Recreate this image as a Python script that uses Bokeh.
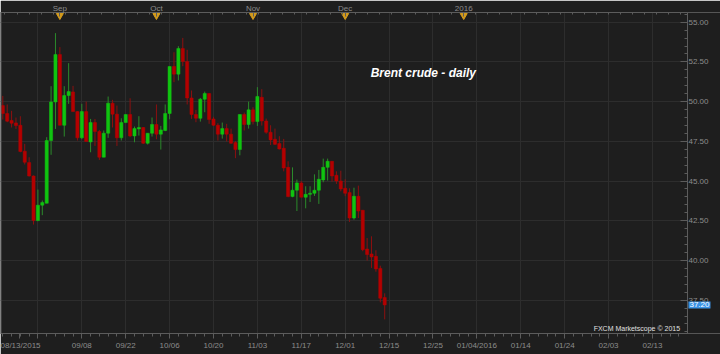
import numpy as np
from bokeh.plotting import figure
from bokeh.models import (ColumnDataSource, LinearAxis, FixedTicker, Range1d,
                          Label, NumeralTickFormatter, Span)
from bokeh.embed import file_html
from bokeh.resources import INLINE

# ---- data (Brent crude daily, 08/13/2015 .. 12/14/2015) ----
opens = [49.75, 49.25, 48.81, 48.66, 48.51, 46.88, 46.16, 45.32, 42.51, 43.48,
         43.60, 47.55, 49.98, 52.96, 48.51, 50.38, 50.61, 49.37, 47.72, 49.37,
         47.46, 48.68, 48.12, 46.50, 48.01, 49.90, 49.21, 47.72, 48.68, 49.19,
         47.84, 48.28, 48.37, 47.38, 48.01, 48.56, 47.95, 48.18, 49.25, 52.21,
         51.73, 53.34, 52.52, 50.23, 49.19, 48.95, 50.15, 50.51, 48.91, 48.51,
         47.95, 48.30, 47.95, 47.42, 46.98, 49.19, 48.56, 49.48, 48.74, 50.27,
         48.78, 48.07, 47.63, 47.36, 47.06, 45.86, 44.02, 44.42, 44.88, 43.98,
         44.16, 44.23, 44.42, 45.07, 45.86, 46.24, 45.36, 45.00, 44.54, 44.27,
         42.67, 44.04, 43.16, 40.72, 40.41, 40.26, 39.50, 37.66]
highs = [50.36, 49.82, 49.42, 49.00, 49.08, 47.34, 46.50, 45.35, 44.46, 43.77,
         47.76, 50.97, 54.31, 53.43, 50.97, 52.42, 50.99, 49.40, 49.86, 50.00,
         48.91, 48.91, 48.22, 48.18, 50.32, 50.11, 49.75, 48.95, 49.19, 50.21,
         48.43, 49.08, 48.40, 48.01, 49.00, 49.82, 48.47, 49.82, 52.21, 53.11,
         53.49, 54.01, 53.26, 50.70, 49.48, 50.23, 50.63, 50.51, 49.04, 48.64,
         48.68, 48.60, 48.30, 47.51, 49.19, 49.31, 50.00, 49.65, 50.91, 50.78,
         48.93, 48.51, 48.30, 47.82, 47.65, 46.24, 45.86, 45.09, 45.00, 44.67,
         44.67, 45.42, 45.70, 46.41, 46.41, 46.24, 45.61, 45.65, 45.11, 44.54,
         44.58, 44.71, 43.16, 41.41, 41.52, 40.64, 39.67, 37.93]
lows = [48.87, 48.70, 48.37, 48.28, 46.81, 46.04, 45.28, 42.26, 42.47, 42.85,
        43.60, 46.65, 48.28, 48.51, 47.80, 49.86, 49.37, 47.55, 47.63, 47.49,
        46.81, 47.21, 46.33, 46.50, 47.72, 48.37, 47.21, 47.55, 48.68, 47.76,
        47.44, 47.86, 47.34, 47.30, 47.80, 47.63, 46.98, 48.14, 48.89, 51.22,
        51.33, 52.23, 49.82, 48.91, 48.70, 48.74, 49.33, 48.60, 48.47, 47.55,
        47.67, 47.49, 47.34, 46.44, 46.62, 48.18, 48.30, 48.56, 48.47, 48.49,
        47.98, 47.27, 47.27, 46.98, 45.61, 43.98, 43.98, 43.11, 43.98, 43.28,
        43.68, 44.06, 43.56, 44.92, 45.03, 44.96, 44.82, 44.35, 44.04, 42.42,
        42.57, 42.67, 40.58, 39.99, 39.53, 39.29, 37.36, 36.29]
closes = [49.25, 48.77, 48.64, 48.49, 46.86, 46.18, 45.32, 42.51, 43.48, 43.64,
          47.55, 49.98, 52.96, 48.51, 50.38, 50.63, 49.37, 47.72, 49.37, 47.49,
          48.68, 48.12, 46.50, 48.01, 49.90, 49.21, 47.72, 48.68, 49.19, 47.84,
          48.30, 48.37, 47.38, 48.01, 48.56, 47.95, 48.22, 49.25, 52.21, 51.73,
          53.34, 52.52, 50.23, 49.19, 48.95, 50.15, 50.51, 48.87, 48.51, 47.95,
          48.30, 47.95, 47.38, 46.98, 49.19, 48.56, 49.48, 48.74, 50.32, 48.78,
          48.07, 47.59, 47.31, 47.02, 45.82, 44.02, 44.42, 44.88, 43.98, 44.16,
          44.23, 44.42, 45.11, 45.86, 46.24, 45.32, 45.00, 44.50, 44.23, 42.67,
          44.04, 43.11, 40.68, 40.37, 40.22, 39.46, 37.62, 37.20]

date_ticks = [8, 18, 28, 38, 48, 58, 68, 78, 88, 98, 108, 118, 128, 138, 148]
date_labels = ["", "09/08", "09/22", "10/06", "10/20", "11/03", "11/17", "12/01",
               "12/15", "12/25", "01/04/2016", "01/14", "01/24", "02/03", "02/13"]
first_date = "08/13/2015"
first_date_pos = 3.8
month_ticks = [13, 35, 57, 78, 105]
month_labels = ["Sep", "Oct", "Nov", "Dec", "2016"]
price_ticks = [37.5, 40.0, 42.5, 45.0, 47.5, 50.0, 52.5, 55.0]
last_price = 37.20
title_text = "Brent crude - daily"
credit_text = "FXCM Marketscope \u00a9 2015"

# ---- styling ----
BG = "#1e1e1e"
GRID = "#2d2d2d"
AXIS = "#5c5c5c"
TXT = "#8c8c8c"
UP, DOWN = "#10c410", "#b40000"
UPW, DOWNW = "#2b8a2b", "#8c1010"
TAG = "#3a93e6"
FONT = "Liberation Sans"

idx = np.arange(len(opens))
o, h, l, c = map(np.array, (opens, highs, lows, closes))
up = c >= o
src = ColumnDataSource(dict(
    x=idx, top=np.maximum(o, c), bottom=np.minimum(o, c), high=h, low=l,
    fill=[UP if u else DOWN for u in up],
    wick=[UPW if u else DOWNW for u in up],
))

X0, X_AXIS, X1 = -0.524, 155.97, 163.5   # frame spans the full width; price axis pinned at X_AXIS
Y0, Y1 = 35.40, 55.61
p = figure(width=720, height=354, output_backend="svg", toolbar_location=None,
           x_range=Range1d(X0, X1), y_range=Range1d(Y0, Y1),
           y_axis_location="right", x_axis_location="below",
           min_border_left=0, min_border_right=0, min_border_top=12,
           min_border_bottom=21)
p.background_fill_color = BG
p.border_fill_color = BG
p.outline_line_color = None

# grid
p.xgrid.ticker = FixedTicker(ticks=date_ticks)
p.ygrid.ticker = FixedTicker(ticks=price_ticks)
p.xgrid.grid_line_color = GRID
p.ygrid.grid_line_color = GRID
gy = p.ygrid[0]
has_cross = True
try:
    gy.cross_bounds = (X0, X_AXIS)
except Exception:
    has_cross = False
if not has_cross:
    p.quad(left=[X_AXIS], right=[X1], bottom=[Y0], top=[Y1], fill_color=BG,
           line_color=None)

# left frame edge
p.add_layout(Span(location=X0 + 0.12, dimension="height", line_color=AXIS,
                  line_width=1))

# candles
p.segment(x0="x", y0="low", x1="x", y1="high", source=src, line_color="wick",
          line_width=1)
p.vbar(x="x", top="top", bottom="bottom", width=0.72, source=src,
       fill_color="fill", line_color="fill", line_width=0.5)

# price axis, pinned at the right end of the chart area
ya = p.yaxis[0]
ya.fixed_location = X_AXIS
ya.ticker = FixedTicker(ticks=price_ticks,
                        minor_ticks=list(np.round(np.arange(35.5, 55.51, 0.5), 2)))
ya.formatter = NumeralTickFormatter(format="0.00")
ya.axis_line_color = AXIS
ya.major_tick_line_color = AXIS
ya.minor_tick_line_color = AXIS
ya.major_tick_in = 7
ya.major_tick_out = 0
ya.minor_tick_in = 3
ya.minor_tick_out = 0
ya.major_label_standoff = 1
ya.major_label_text_color = TXT
ya.major_label_text_font = FONT
ya.major_label_text_font_size = "8px"

# bottom date axis
xa = p.xaxis[0]
xa.bounds = (X0, X_AXIS)
xa.ticker = FixedTicker(ticks=[first_date_pos] + date_ticks,
                        minor_ticks=list(range(0, 156, 2)))
xa.major_label_overrides = {t: s for t, s in zip([first_date_pos] + date_ticks,
                                                  [first_date] + date_labels)}
xa.axis_line_color = AXIS
xa.major_tick_line_color = AXIS
xa.minor_tick_line_color = AXIS
xa.major_tick_in = 0
xa.major_tick_out = 5
xa.minor_tick_in = 0
xa.minor_tick_out = 3
xa.major_label_standoff = 2
xa.major_label_text_color = TXT
xa.major_label_text_font = FONT
xa.major_label_text_font_size = "8px"

# top month axis
ta = LinearAxis(ticker=FixedTicker(ticks=month_ticks,
                                   minor_ticks=list(np.arange(0.5, 156, 2.75))),
                bounds=(X0, X_AXIS))
ta.major_label_overrides = {t: s for t, s in zip(month_ticks, month_labels)}
ta.axis_line_color = AXIS
ta.major_tick_line_color = AXIS
ta.minor_tick_line_color = AXIS
ta.major_tick_in = 4
ta.major_tick_out = 0
ta.minor_tick_in = 2
ta.minor_tick_out = 0
ta.major_label_standoff = 0
ta.major_label_text_color = TXT
ta.major_label_text_font = FONT
ta.major_label_text_font_size = "8px"
p.add_layout(ta, "above")

# month markers
p.scatter(x=month_ticks, y=[55.42] * len(month_ticks), marker="inverted_triangle",
          size=7, fill_color="#d39b1d", line_color="#d39b1d")

# title
p.add_layout(Label(x=95.8, y=51.83, text=title_text, text_align="center",
                   text_baseline="middle", text_color="#ffffff", text_font=FONT,
                   text_font_size="12px", text_font_style="bold italic"))

# credit
p.add_layout(Label(x=154.3, y=35.70, text=credit_text, text_align="right",
                   text_baseline="middle", text_color="#e0e0e0", text_font=FONT,
                   text_font_size="7px"))

# last price tag on the price axis
p.add_layout(Label(x=X_AXIS, y=last_price, x_offset=1, text="%.2f" % last_price,
                   text_align="left", text_baseline="middle", text_color="#ffffff",
                   text_font=FONT, text_font_size="8px",
                   background_fill_color=TAG, padding=1))

open("out.html", "w").write(file_html(p, INLINE))
